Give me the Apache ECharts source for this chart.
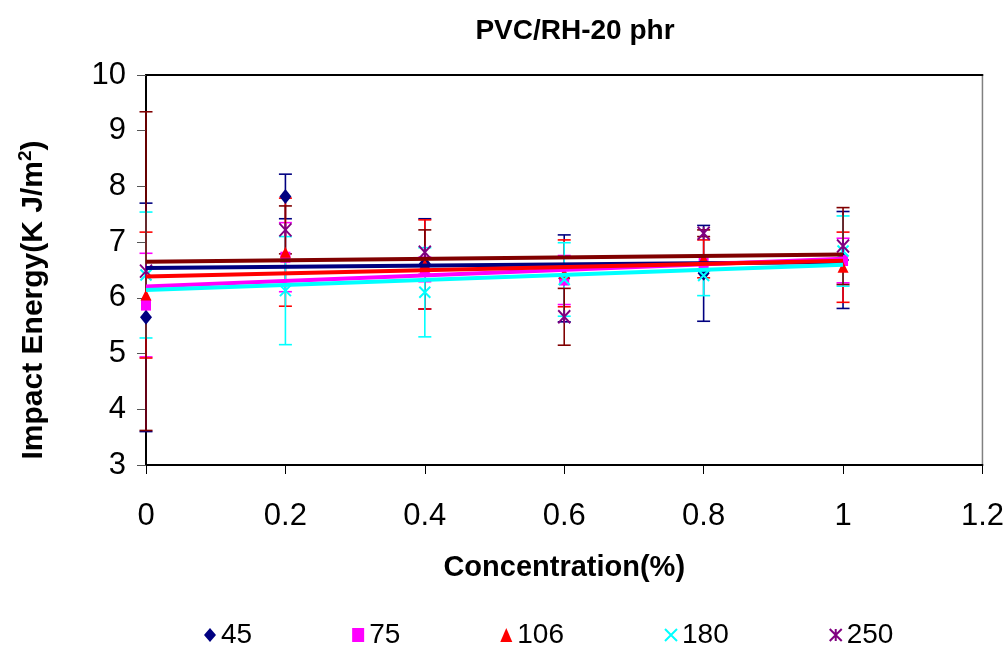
<!DOCTYPE html>
<html>
<head>
<meta charset="utf-8">
<script src="https://cdn.jsdelivr.net/npm/echarts@6/dist/echarts.min.js"></script>
<style>
  html, body { margin: 0; padding: 0; background: #fff; }
  #chart { width: 1007px; height: 648px; }
</style>
</head>
<body>
<div id="chart"></div>
<script>
// Impact energy of PVC/RH-20 phr vs. additive concentration, per particle size
const concentration = [0, 0.2, 0.4, 0.6, 0.8, 1.0];
const seriesNames = ['45', '75', '106', '180', '250'];

const energy45  = [5.65, 7.82, 6.61, 6.35, 6.44, 6.68];
const energy75  = [5.87, 6.73, 6.51, 6.32, 6.62, 6.67];
const energy106 = [6.05, 6.82, 6.60, 6.44, 6.70, 6.55];
const energy180 = [6.41, 6.13, 6.10, 6.33, 6.40, 6.84];
const energy250 = [6.48, 7.22, 6.82, 5.66, 7.16, 6.93];

const error45  = [2.05, 0.40, 0.81, 0.78, 0.86, 0.87];
const error75  = [0.93, 0.62, 0.22, 0.44, 0.14, 0.40];
const error106 = [1.13, 0.97, 0.80, 0.60, 0.34, 0.63];
const error180 = [1.13, 0.97, 0.80, 0.66, 0.36, 0.63];
const error250 = [2.86, 0.43, 0.40, 0.51, 0.06, 0.69];

const xTicks = [0, 0.2, 0.4, 0.6, 0.8, 1, 1.2];
const yTicks = [3, 4, 5, 6, 7, 8, 9, 10];

const FONT = '"Liberation Sans", Arial, sans-serif';

const values = [energy45, energy75, energy106, energy180, energy250];
const errors = [error45, error75, error106, error180, error250];
const lineColors = ['#000080', '#FF00FF', '#FF0000', '#00FFFF', '#800000'];
const markerColors = ['#000080', '#FF00FF', '#FF0000', '#00FFFF', '#800080'];
const crossPath = 'path://M0,0L10,10M10,0L0,10';
const starPath = 'path://M0,0L10,10M10,0L0,10M5,0L5,10';
const symbols = ['diamond', 'rect', 'triangle', crossPath, starPath];
const symbolSizes = [[12, 15], [10, 11], [11, 11], [11, 11], [12, 13]];
const strokeOnly = [false, false, false, true, true];

// least-squares linear trend of one series
function linearFit(xs, ys) {
  const n = xs.length;
  const mx = xs.reduce((a, b) => a + b, 0) / n;
  const my = ys.reduce((a, b) => a + b, 0) / n;
  let sxy = 0, sxx = 0;
  for (let i = 0; i < n; i++) {
    sxy += (xs[i] - mx) * (ys[i] - my);
    sxx += (xs[i] - mx) * (xs[i] - mx);
  }
  const slope = sxy / sxx;
  return { slope, intercept: my - slope * mx };
}

const series = [];

// error bars (drawn first, beneath markers and trend lines)
values.forEach((vals, k) => {
  const color = lineColors[k];
  series.push({
    type: 'custom',
    name: 'err' + seriesNames[k],
    z: 2,
    encode: { x: 0, y: 1 },
    data: concentration.map((x, i) => [x, vals[i], errors[k][i]]),
    renderItem(params, api) {
      const x = api.value(0), y = api.value(1), e = api.value(2);
      const top = api.coord([x, y + e]);
      const bot = api.coord([x, y - e]);
      const hw = 6.5;
      const st = { stroke: color, lineWidth: 1.6 };
      return {
        type: 'group',
        children: [
          { type: 'line', shape: { x1: top[0], y1: top[1], x2: bot[0], y2: bot[1] }, style: st },
          { type: 'line', shape: { x1: top[0] - hw, y1: top[1], x2: top[0] + hw, y2: top[1] }, style: st },
          { type: 'line', shape: { x1: bot[0] - hw, y1: bot[1], x2: bot[0] + hw, y2: bot[1] }, style: st }
        ]
      };
    }
  });
});

// data markers
values.forEach((vals, k) => {
  const c = markerColors[k];
  series.push({
    type: 'scatter',
    name: seriesNames[k],
    z: 3,
    symbol: symbols[k],
    symbolSize: symbolSizes[k],
    itemStyle: strokeOnly[k]
      ? { color: c, borderColor: c, borderWidth: 2, opacity: 1 }
      : { color: c, opacity: 1 },
    data: concentration.map((x, i) => [x, vals[i]])
  });
});

// linear trend lines over the measured range
values.forEach((vals, k) => {
  const fit = linearFit(concentration, vals);
  const x0 = concentration[0], x1 = concentration[concentration.length - 1];
  series.push({
    type: 'line',
    name: 'trend' + seriesNames[k],
    z: 4,
    symbol: 'none',
    silent: true,
    lineStyle: { color: lineColors[k], width: 4 },
    data: [[x0, fit.intercept + fit.slope * x0], [x1, fit.intercept + fit.slope * x1]]
  });
});

const chart = echarts.init(document.getElementById('chart'), null, { renderer: 'canvas' });
chart.setOption({
  animation: false,
  backgroundColor: '#ffffff',
  title: {
    text: 'PVC/RH-20 phr',
    left: 570,
    textAlign: 'center',
    top: 12,
    textStyle: { fontFamily: FONT, fontSize: 28, fontWeight: 'bold', color: '#000' }
  },
  graphic: [{
    type: 'text',
    x: 34,
    y: 300,
    rotation: Math.PI / 2,
    style: {
      text: '{b|Impact Energy(K J/m}{s|2}{b|)}',
      align: 'center',
      verticalAlign: 'middle',
      rich: {
        b: { fontFamily: FONT, fontSize: 30, fontWeight: 'bold', fill: '#000' },
        s: { fontFamily: FONT, fontSize: 19, fontWeight: 'bold', fill: '#000', padding: [0, 0, 16, 0] }
      }
    }
  }],
  grid: {
    left: 146, right: 24, top: 75, bottom: 183,
    show: true, borderColor: '#808080', borderWidth: 1.5, backgroundColor: 'transparent'
  },
  legend: {
    data: seriesNames,
    top: 616,
    left: 199,
    itemGap: 100,
    itemWidth: 12,
    itemHeight: 14,
    textStyle: { fontFamily: FONT, fontSize: 28, color: '#000' }
  },
  xAxis: [{
    type: 'value',
    min: xTicks[0],
    max: xTicks[xTicks.length - 1],
    interval: 0.2,
    name: 'Concentration(%)',
    nameLocation: 'middle',
    nameGap: 88,
    nameTextStyle: { fontFamily: FONT, fontSize: 29, fontWeight: 'bold', color: '#000' },
    axisLine: { lineStyle: { color: '#000', width: 2 } },
    axisTick: { inside: false, length: 9, lineStyle: { color: '#000', width: 1 } },
    axisLabel: { fontFamily: FONT, fontSize: 31, color: '#000', margin: 36 },
    splitLine: { show: false }
  }, {
    type: 'value',
    position: 'top',
    min: xTicks[0],
    max: xTicks[xTicks.length - 1],
    axisLine: { show: true, onZero: false, lineStyle: { color: '#000', width: 2 } },
    axisTick: { show: false },
    axisLabel: { show: false },
    splitLine: { show: false }
  }],
  yAxis: {
    type: 'value',
    min: yTicks[0],
    max: yTicks[yTicks.length - 1],
    interval: 1,
    axisLine: { show: true, lineStyle: { color: '#000', width: 2 } },
    axisTick: { show: true, inside: false, length: 9, lineStyle: { color: '#555', width: 1 } },
    axisLabel: { fontFamily: FONT, fontSize: 31, color: '#000', margin: 20 },
    splitLine: { show: false }
  },
  series: series
});
</script>
</body>
</html>
